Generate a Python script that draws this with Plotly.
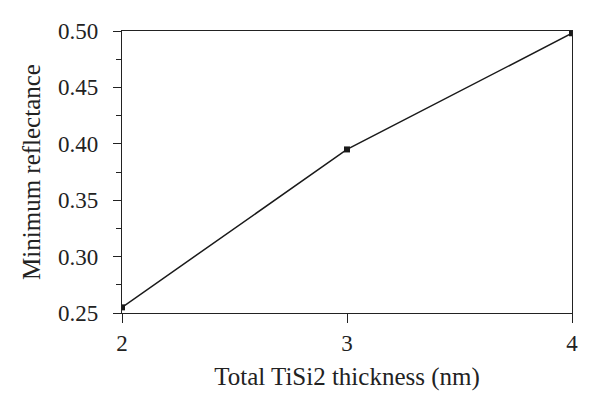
import plotly.graph_objects as go

thickness = [2, 3, 4]
reflectance = [0.255, 0.395, 0.498]
y_ticks = [0.25, 0.30, 0.35, 0.40, 0.45, 0.50]
y_tick_labels = ["0.25", "0.30", "0.35", "0.40", "0.45", "0.50"]
x_ticks = [2, 3, 4]

fig = go.Figure()
fig.add_trace(go.Scatter(
    x=thickness, y=reflectance, mode="lines+markers",
    line=dict(color="#1a1a1a", width=1.5),
    marker=dict(symbol="square", size=6, color="#1a1a1a"),
    cliponaxis=True, showlegend=False,
))

font = "Liberation Serif, Times New Roman, serif"
fig.update_layout(
    width=600, height=412,
    margin=dict(l=114, r=36, t=23, b=107),
    paper_bgcolor="white", plot_bgcolor="white",
    font=dict(family=font, color="#222", size=22),
)
fig.update_xaxes(
    range=[2, 4], tickvals=x_ticks, ticks="outside", ticklen=9, tickwidth=1.3,
    tickcolor="#222", showline=True, linecolor="#222", linewidth=1.3, mirror=True,
    showgrid=False, zeroline=False, tickfont=dict(size=23),
    title=dict(text="Total TiSi2 thickness (nm)", font=dict(size=25), standoff=12),
)
fig.update_yaxes(
    range=[0.25, 0.50], tickvals=y_ticks, ticktext=y_tick_labels, ticks="outside",
    ticklen=8, tickwidth=1.3, tickcolor="#222", ticklabelstandoff=10,
    minor=dict(dtick=0.025, ticks="outside", ticklen=5, tickcolor="#222", tickwidth=1.3, showgrid=False),
    showline=True, linecolor="#222", linewidth=1.3, mirror=True,
    showgrid=False, zeroline=False, tickfont=dict(size=23),
    title=dict(text="Minimum reflectance", font=dict(size=25), standoff=10),
)
fig.write_html("out.html")
